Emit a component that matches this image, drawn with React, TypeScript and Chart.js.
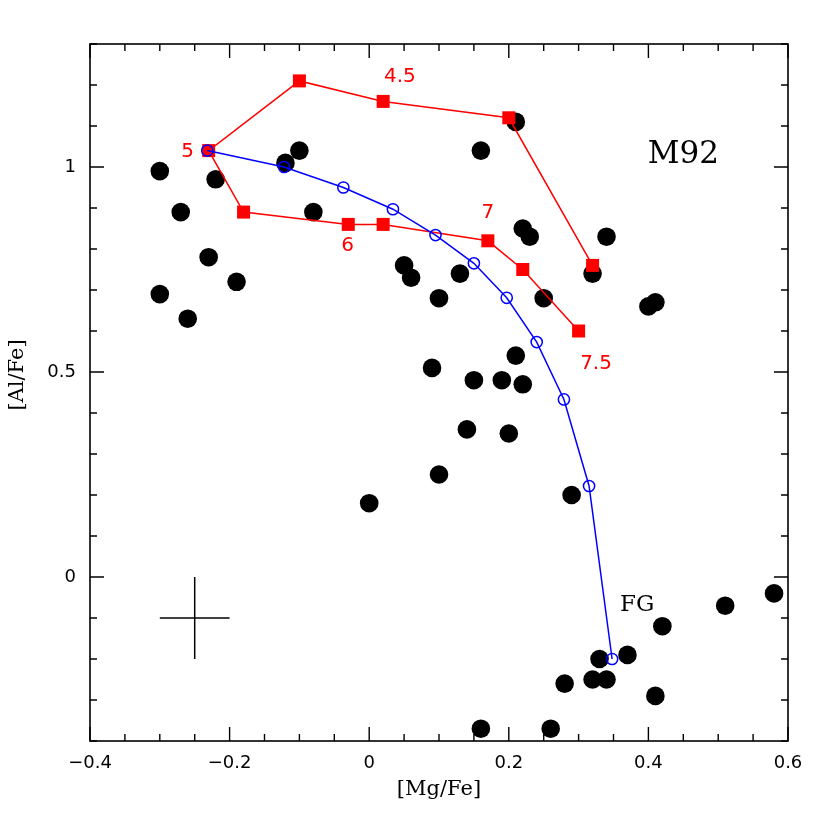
import React, { useEffect, useRef } from "react";
import { Chart, registerables } from "chart.js";

Chart.register(...registerables);

// Observed stars: [Mg/Fe] and [Al/Fe]
const starMg = [
  -0.30, -0.27, -0.22, -0.23, -0.19, -0.30, -0.26, -0.12, -0.10, -0.08,
  0.05, 0.06, 0.10, 0.13, 0.21, 0.16, 0.22, 0.23, 0.34, 0.32,
  0.40, 0.41, 0.25, 0.21, 0.09, 0.15, 0.19, 0.22, 0.14, 0.20,
  0.10, 0.29, 0.00, 0.42, 0.51, 0.58, 0.37, 0.33, 0.32, 0.34,
  0.28, 0.41, 0.16, 0.26,
];
const starAl = [
  0.99, 0.89, 0.97, 0.78, 0.72, 0.69, 0.63, 1.01, 1.04, 0.89,
  0.76, 0.73, 0.68, 0.74, 1.11, 1.04, 0.85, 0.83, 0.83, 0.74,
  0.66, 0.67, 0.68, 0.54, 0.51, 0.48, 0.48, 0.47, 0.36, 0.35,
  0.25, 0.20, 0.18, -0.12, -0.07, -0.04, -0.19, -0.20, -0.25, -0.25,
  -0.26, -0.29, -0.37, -0.37,
];

// Red model track (filled squares)
const redMg = [0.32, 0.20, 0.02, -0.10, -0.23, -0.18, -0.03, 0.02, 0.17, 0.22, 0.30];
const redAl = [0.76, 1.12, 1.16, 1.21, 1.04, 0.89, 0.86, 0.86, 0.82, 0.75, 0.60];

// Blue dilution track (open circles)
const blueMg = [-0.232, -0.122, -0.037, 0.034, 0.095, 0.15, 0.197, 0.24, 0.279, 0.315, 0.348];
const blueAl = [1.04, 1.0, 0.95, 0.897, 0.834, 0.765, 0.681, 0.573, 0.433, 0.222, -0.2];

// Typical error cross
const errMg = -0.25;
const errAl = -0.1;
const errMgHalf = 0.05;
const errAlHalf = 0.1;

// Tick labels
const xTickValues = [-0.4, -0.2, 0, 0.2, 0.4, 0.6];
const yTickValues = [0, 0.5, 1];

// Text annotations
const redLabelText = ["4.5", "5", "6", "7", "7.5"];
const redLabelMg = [0.044, -0.26, -0.031, 0.17, 0.325];
const redLabelAl = [1.219, 1.038, 0.807, 0.889, 0.52];
const blackLabelText = ["M92", "FG"];
const blackLabelMg = [0.45, 0.384];
const blackLabelAl = [1.029, -0.069];
const blackLabelSize = [31, 23];

const fmt = (v: number) => {
  const s = String(Math.round(v * 100) / 100);
  return s.replace("-", "\u2212");
};

const framePlugin = {
  id: "frameTicks",
  afterDatasetsDraw(chart: any) {
    const { ctx, chartArea } = chart;
    const xs = chart.scales.x;
    const ys = chart.scales.y;
    const { left, right, top, bottom } = chartArea;
    ctx.save();
    // text labels
    ctx.textAlign = "center";
    ctx.textBaseline = "middle";
    ctx.fillStyle = "#ff0000";
    ctx.font = "20px 'DejaVu Sans'";
    redLabelText.forEach((t, i) => {
      ctx.fillText(t, xs.getPixelForValue(redLabelMg[i]), ys.getPixelForValue(redLabelAl[i]));
    });
    ctx.fillStyle = "#000";
    blackLabelText.forEach((t, i) => {
      ctx.font = `${blackLabelSize[i]}px 'DejaVu Serif'`;
      ctx.fillText(t, xs.getPixelForValue(blackLabelMg[i]), ys.getPixelForValue(blackLabelAl[i]));
    });

    // frame
    ctx.strokeStyle = "#000";
    ctx.lineWidth = 1.6;
    ctx.strokeRect(left, top, right - left, bottom - top);

    // ticks
    ctx.lineWidth = 1.4;
    ctx.beginPath();
    const xMin = xs.min, xMax = xs.max;
    for (let k = 0; ; k++) {
      const v = xMin + k * 0.05;
      if (v > xMax + 1e-9) break;
      const major = Math.abs(v / 0.2 - Math.round(v / 0.2)) < 1e-6;
      const len = major ? 14 : 7;
      const px = xs.getPixelForValue(v);
      ctx.moveTo(px, bottom);
      ctx.lineTo(px, bottom - len);
      ctx.moveTo(px, top);
      ctx.lineTo(px, top + len);
    }
    const yStart = Math.ceil(ys.min * 10 - 1e-9);
    const yEnd = Math.floor(ys.max * 10 + 1e-9);
    for (let k = yStart; k <= yEnd; k++) {
      const v = k / 10;
      const major = k % 5 === 0;
      const len = major ? 14 : 7;
      const py = ys.getPixelForValue(v);
      ctx.moveTo(left, py);
      ctx.lineTo(left + len, py);
      ctx.moveTo(right, py);
      ctx.lineTo(right - len, py);
    }
    ctx.stroke();

    // axis titles
    ctx.fillStyle = "#000";
    ctx.font = "21px 'DejaVu Serif'";
    ctx.textAlign = "center";
    ctx.textBaseline = "middle";
    ctx.fillText("[Mg/Fe]", (left + right) / 2, 790);
    ctx.translate(18, 375);
    ctx.rotate(-Math.PI / 2);
    ctx.fillText("[Al/Fe]", 0, 0);
    ctx.restore();
  },
};

export default function App() {
  const ref = useRef<HTMLCanvasElement | null>(null);

  useEffect(() => {
    if (!ref.current) return;
    const stars = starMg.map((x, i) => ({ x, y: starAl[i] }));
    const red = redMg.map((x, i) => ({ x, y: redAl[i] }));
    const blue = blueMg.map((x, i) => ({ x, y: blueAl[i] }));
    const errH = [
      { x: errMg - errMgHalf, y: errAl },
      { x: errMg + errMgHalf, y: errAl },
    ];
    const errV = [
      { x: errMg, y: errAl - errAlHalf },
      { x: errMg, y: errAl + errAlHalf },
    ];
    const tickFont = { family: "'DejaVu Sans'", size: 18 };

    const chart = new Chart(ref.current, {
      type: "scatter",
      data: {
        datasets: [
          {
            label: "blue",
            data: blue,
            showLine: true,
            borderColor: "#0000ff",
            borderWidth: 1.5,
            pointStyle: "circle",
            pointRadius: 5.6,
            pointBackgroundColor: "rgba(0,0,0,0)",
            pointBorderColor: "#0000ff",
            pointBorderWidth: 1.5,
            order: 0,
          },
          {
            label: "red",
            data: red,
            showLine: true,
            borderColor: "#ff0000",
            borderWidth: 1.5,
            pointStyle: "rect",
            pointRadius: 9.2,
            pointBackgroundColor: "#ff0000",
            pointBorderColor: "#ff0000",
            pointBorderWidth: 0,
            order: 1,
          },
          {
            label: "stars",
            data: stars,
            showLine: false,
            pointStyle: "circle",
            pointRadius: 9.3,
            pointBackgroundColor: "#000",
            pointBorderColor: "#000",
            pointBorderWidth: 0,
            order: 2,
          },
          {
            label: "errH",
            data: errH,
            showLine: true,
            borderColor: "#000",
            borderWidth: 1.5,
            pointRadius: 0,
            order: 3,
          },
          {
            label: "errV",
            data: errV,
            showLine: true,
            borderColor: "#000",
            borderWidth: 1.5,
            pointRadius: 0,
            order: 3,
          },
        ],
      },
      options: {
        animation: false,
        responsive: false,
        maintainAspectRatio: false,
        devicePixelRatio: 1,
        layout: { padding: { top: 44, right: 42, left: 0, bottom: 0 } },
        plugins: {
          legend: { display: false },
          tooltip: { enabled: false },
          title: { display: false },
        },
        scales: {
          x: {
            type: "linear",
            min: -0.4,
            max: 0.6,
            afterBuildTicks: (s: any) => {
              s.ticks = xTickValues.map((v) => ({ value: v }));
            },
            afterFit: (s: any) => {
              s.height = 89;
            },
            grid: { display: false, drawTicks: false },
            border: { display: false },
            ticks: {
              padding: 12,
              color: "#000",
              font: tickFont,
              maxRotation: 0,
              autoSkip: false,
              callback: (v: any) => fmt(Number(v)),
            },
          },
          y: {
            type: "linear",
            min: -0.4,
            max: 1.3,
            afterBuildTicks: (s: any) => {
              s.ticks = yTickValues.map((v) => ({ value: v }));
            },
            afterFit: (s: any) => {
              s.width = 90;
            },
            grid: { display: false, drawTicks: false },
            border: { display: false },
            ticks: {
              padding: 14,
              color: "#000",
              font: tickFont,
              autoSkip: false,
              callback: (v: any) => fmt(Number(v)),
            },
          },
        },
      },
      plugins: [framePlugin],
    } as any);
    return () => chart.destroy();
  }, []);

  return (
    <div style={{ position: "absolute", left: 0, top: 0, width: 830, height: 830, background: "#fff" }}>
      <canvas ref={ref} width={830} height={830} style={{ width: 830, height: 830, display: "block" }} />
    </div>
  );
}
